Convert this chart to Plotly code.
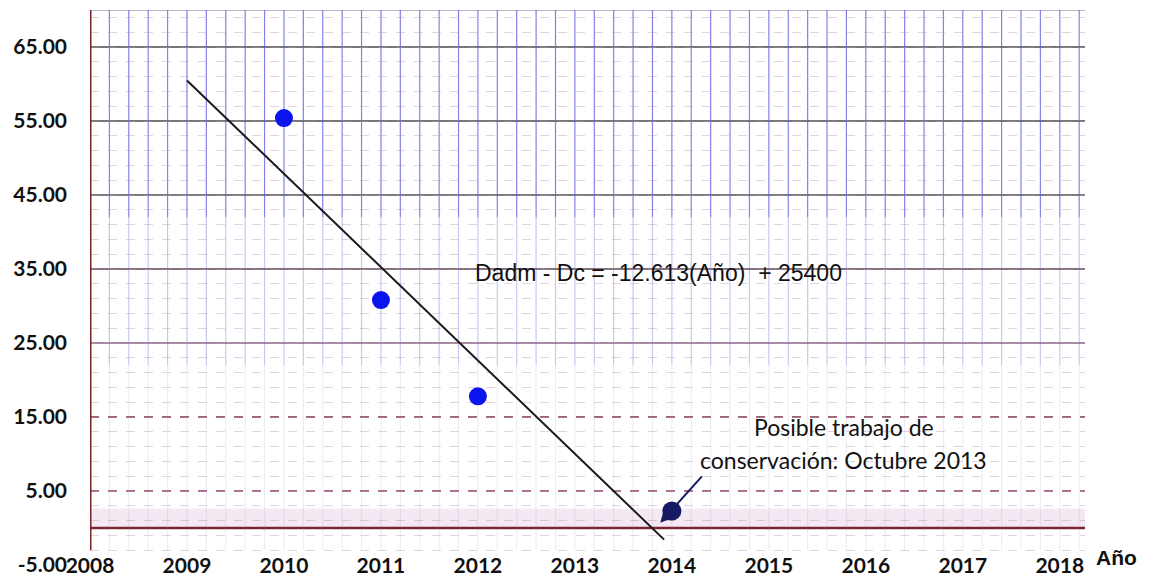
import plotly.graph_objects as go

# Measured values (Dadm - Dc) by year
years = [2010, 2011, 2012]
dadm_dc = [55.4, 30.8, 17.8]
latest_year = [2014]
latest_value = [2.3]

# Linear trend: Dadm - Dc = -12.613 * Año + 25400
slope = -12.613
intercept = 25400
trend_years = [2009, 2013.92]
trend_values = [slope * t + intercept for t in trend_years]

y_ticks = [65, 55, 45, 35, 25, 15, 5, -5]
y_tick_text = ["65.00", "55.00", "45.00", "35.00", "25.00", "15.00", "5.00", "-5.00"]
x_ticks = list(range(2008, 2019))

X0, X1 = 2008, 2018.26
Y0, Y1 = -5, 70

fig = go.Figure()

fig.add_trace(go.Scatter(
    x=trend_years, y=trend_values, mode="lines",
    line=dict(color="#1a1a1a", width=2), hoverinfo="skip", showlegend=False))
fig.add_trace(go.Scatter(
    x=years, y=dadm_dc, mode="markers",
    marker=dict(color="#0a14ee", size=18), showlegend=False))
fig.add_trace(go.Scatter(
    x=latest_year, y=latest_value, mode="markers",
    marker=dict(color="#161a62", size=19), showlegend=False))

shapes = []
# pale band just above the zero line
shapes.append(dict(type="rect", xref="paper", x0=0, x1=1, yref="y", y0=0, y1=2.6,
                   fillcolor="rgba(240,224,236,0.7)", line=dict(width=0), layer="below"))

# vertical grid every 0.2 year, strong at the top and fading downwards
bands = [(42, Y1, "rgba(95,95,225,0.78)"), (22, 42, "rgba(110,100,215,0.36)"),
         (-3, 22, "rgba(150,130,210,0.15)")]
n_steps = int(round((X1 - X0) / 0.2))
for i in range(1, n_steps + 1):
    xv = X0 + 0.2 * i
    for ya, yb, col in bands:
        shapes.append(dict(type="line", xref="x", x0=xv, x1=xv, yref="y", y0=ya, y1=yb,
                           line=dict(color=col, width=1.2), layer="below"))

# major horizontal lines
major_styles = {
    65: ("#4a4a4a", "solid"), 55: ("#4a4a4a", "solid"), 45: ("#555055", "solid"),
    35: ("#5a4452", "solid"), 25: ("#8a6584", "solid"), 15: ("#7a3048", "dash"),
    5: ("#8a4060", "dash"),
}
for v, (c, d) in major_styles.items():
    shapes.append(dict(type="line", xref="paper", x0=0, x1=1, yref="y", y0=v, y1=v,
                       line=dict(color=c, width=1.6, dash=d), layer="below"))
# zero line
shapes.append(dict(type="line", xref="paper", x0=0, x1=1, yref="y", y0=0, y1=0,
                   line=dict(color="#7a2530", width=2.5), layer="below"))
# left axis
shapes.append(dict(type="line", xref="x", x0=2008, x1=2008, yref="y", y0=-3, y1=Y1,
                   line=dict(color="#7a2525", width=3), layer="above"))
# top border
shapes.append(dict(type="line", xref="paper", x0=0, x1=1, yref="y", y0=Y1, y1=Y1,
                   line=dict(color="rgba(120,120,160,0.7)", width=1.5), layer="below"))
fig.update_layout(shapes=shapes)

fig.update_xaxes(
    range=[X0, X1], tickmode="array", tickvals=x_ticks,
    ticktext=[str(t) for t in x_ticks],
    tickfont=dict(family="Lato", size=21, color="#111111", weight="bold"),
    ticklabelstandoff=-14, automargin=False,
    showgrid=False, showline=False, zeroline=False, ticks="",
)
fig.update_yaxes(
    range=[Y0, Y1], tickmode="array", tickvals=y_ticks, ticktext=y_tick_text,
    tickfont=dict(family="Lato", size=21, color="#111111", weight="bold"),
    ticklabelstandoff=22, automargin=False,
    showgrid=False,
    minor=dict(dtick=2, tick0=5, showgrid=True,
               gridcolor="rgba(190,140,175,0.40)", gridwidth=1, griddash="dash"),
    showline=False, zeroline=False, ticks="",
)

annotations = [
    dict(x=2013.86, y=34.5, xref="x", yref="y", text="Dadm - Dc = -12.613(Año)  + 25400",
         showarrow=False, font=dict(family="Liberation Sans", size=23, color="#111111")),
    dict(x=2015.77, y=13.6, xref="x", yref="y", text="Posible trabajo de",
         showarrow=False, font=dict(family="Lato", size=23, color="#111111")),
    dict(x=2015.77, y=9.2, xref="x", yref="y", text="conservación: Octubre 2013",
         showarrow=False, font=dict(family="Lato", size=23, color="#111111")),
    dict(x=2013.88, y=0.7, xref="x", yref="y", text="", showarrow=True,
         ax=43, ay=-48, arrowhead=2, arrowsize=1.2, arrowwidth=2, arrowcolor="#161a62"),
    dict(x=1.032, y=0.013, xref="paper", yref="paper", xanchor="center", yanchor="middle",
         text="<b>Año</b>", showarrow=False,
         font=dict(family="Liberation Sans", size=21, color="#111111")),
]
fig.update_layout(annotations=annotations)

fig.update_layout(
    width=1150, height=577,
    margin=dict(l=90, r=65, t=10, b=12, autoexpand=False),
    paper_bgcolor="white", plot_bgcolor="white",
)

fig.write_html("out.html")
